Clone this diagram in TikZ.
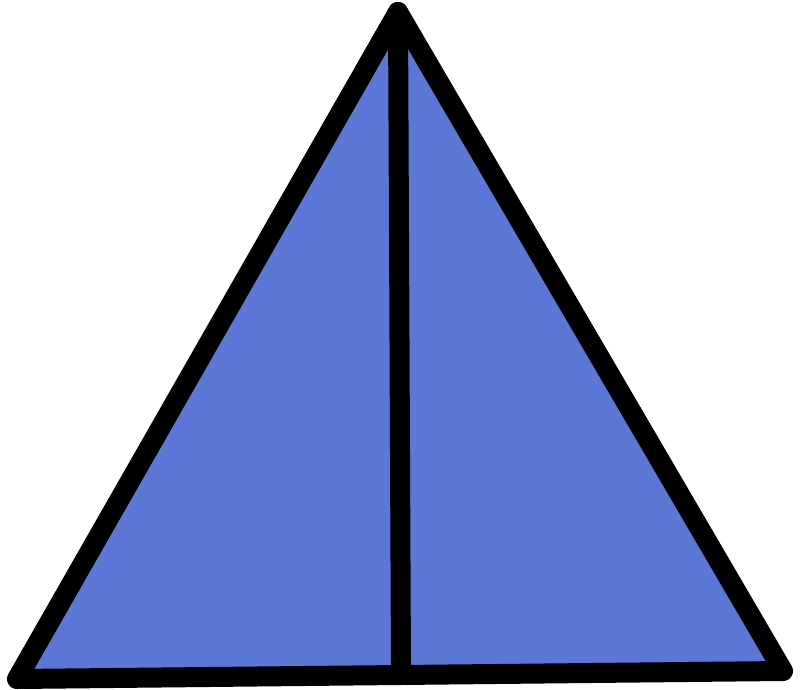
\documentclass[tikz,border=0pt]{standalone}
\definecolor{triblue}{HTML}{5B78D6}
\begin{document}
\begin{tikzpicture}[x=1pt,y=-1pt,
  edge/.style={draw=black,line width=20pt,line join=round,line cap=round}]
\useasboundingbox (0,0) rectangle (800,690);
\coordinate (apex) at (398,12);
\coordinate (bl) at (17,679);
\coordinate (br) at (783,671);
\coordinate (mid) at (401,673);
\fill[triblue] (apex) -- (bl) -- (br) -- cycle;
\draw[edge] (apex) -- (mid);
\draw[edge] (apex) -- (bl) -- (br) -- cycle;
\end{tikzpicture}
\end{document}
